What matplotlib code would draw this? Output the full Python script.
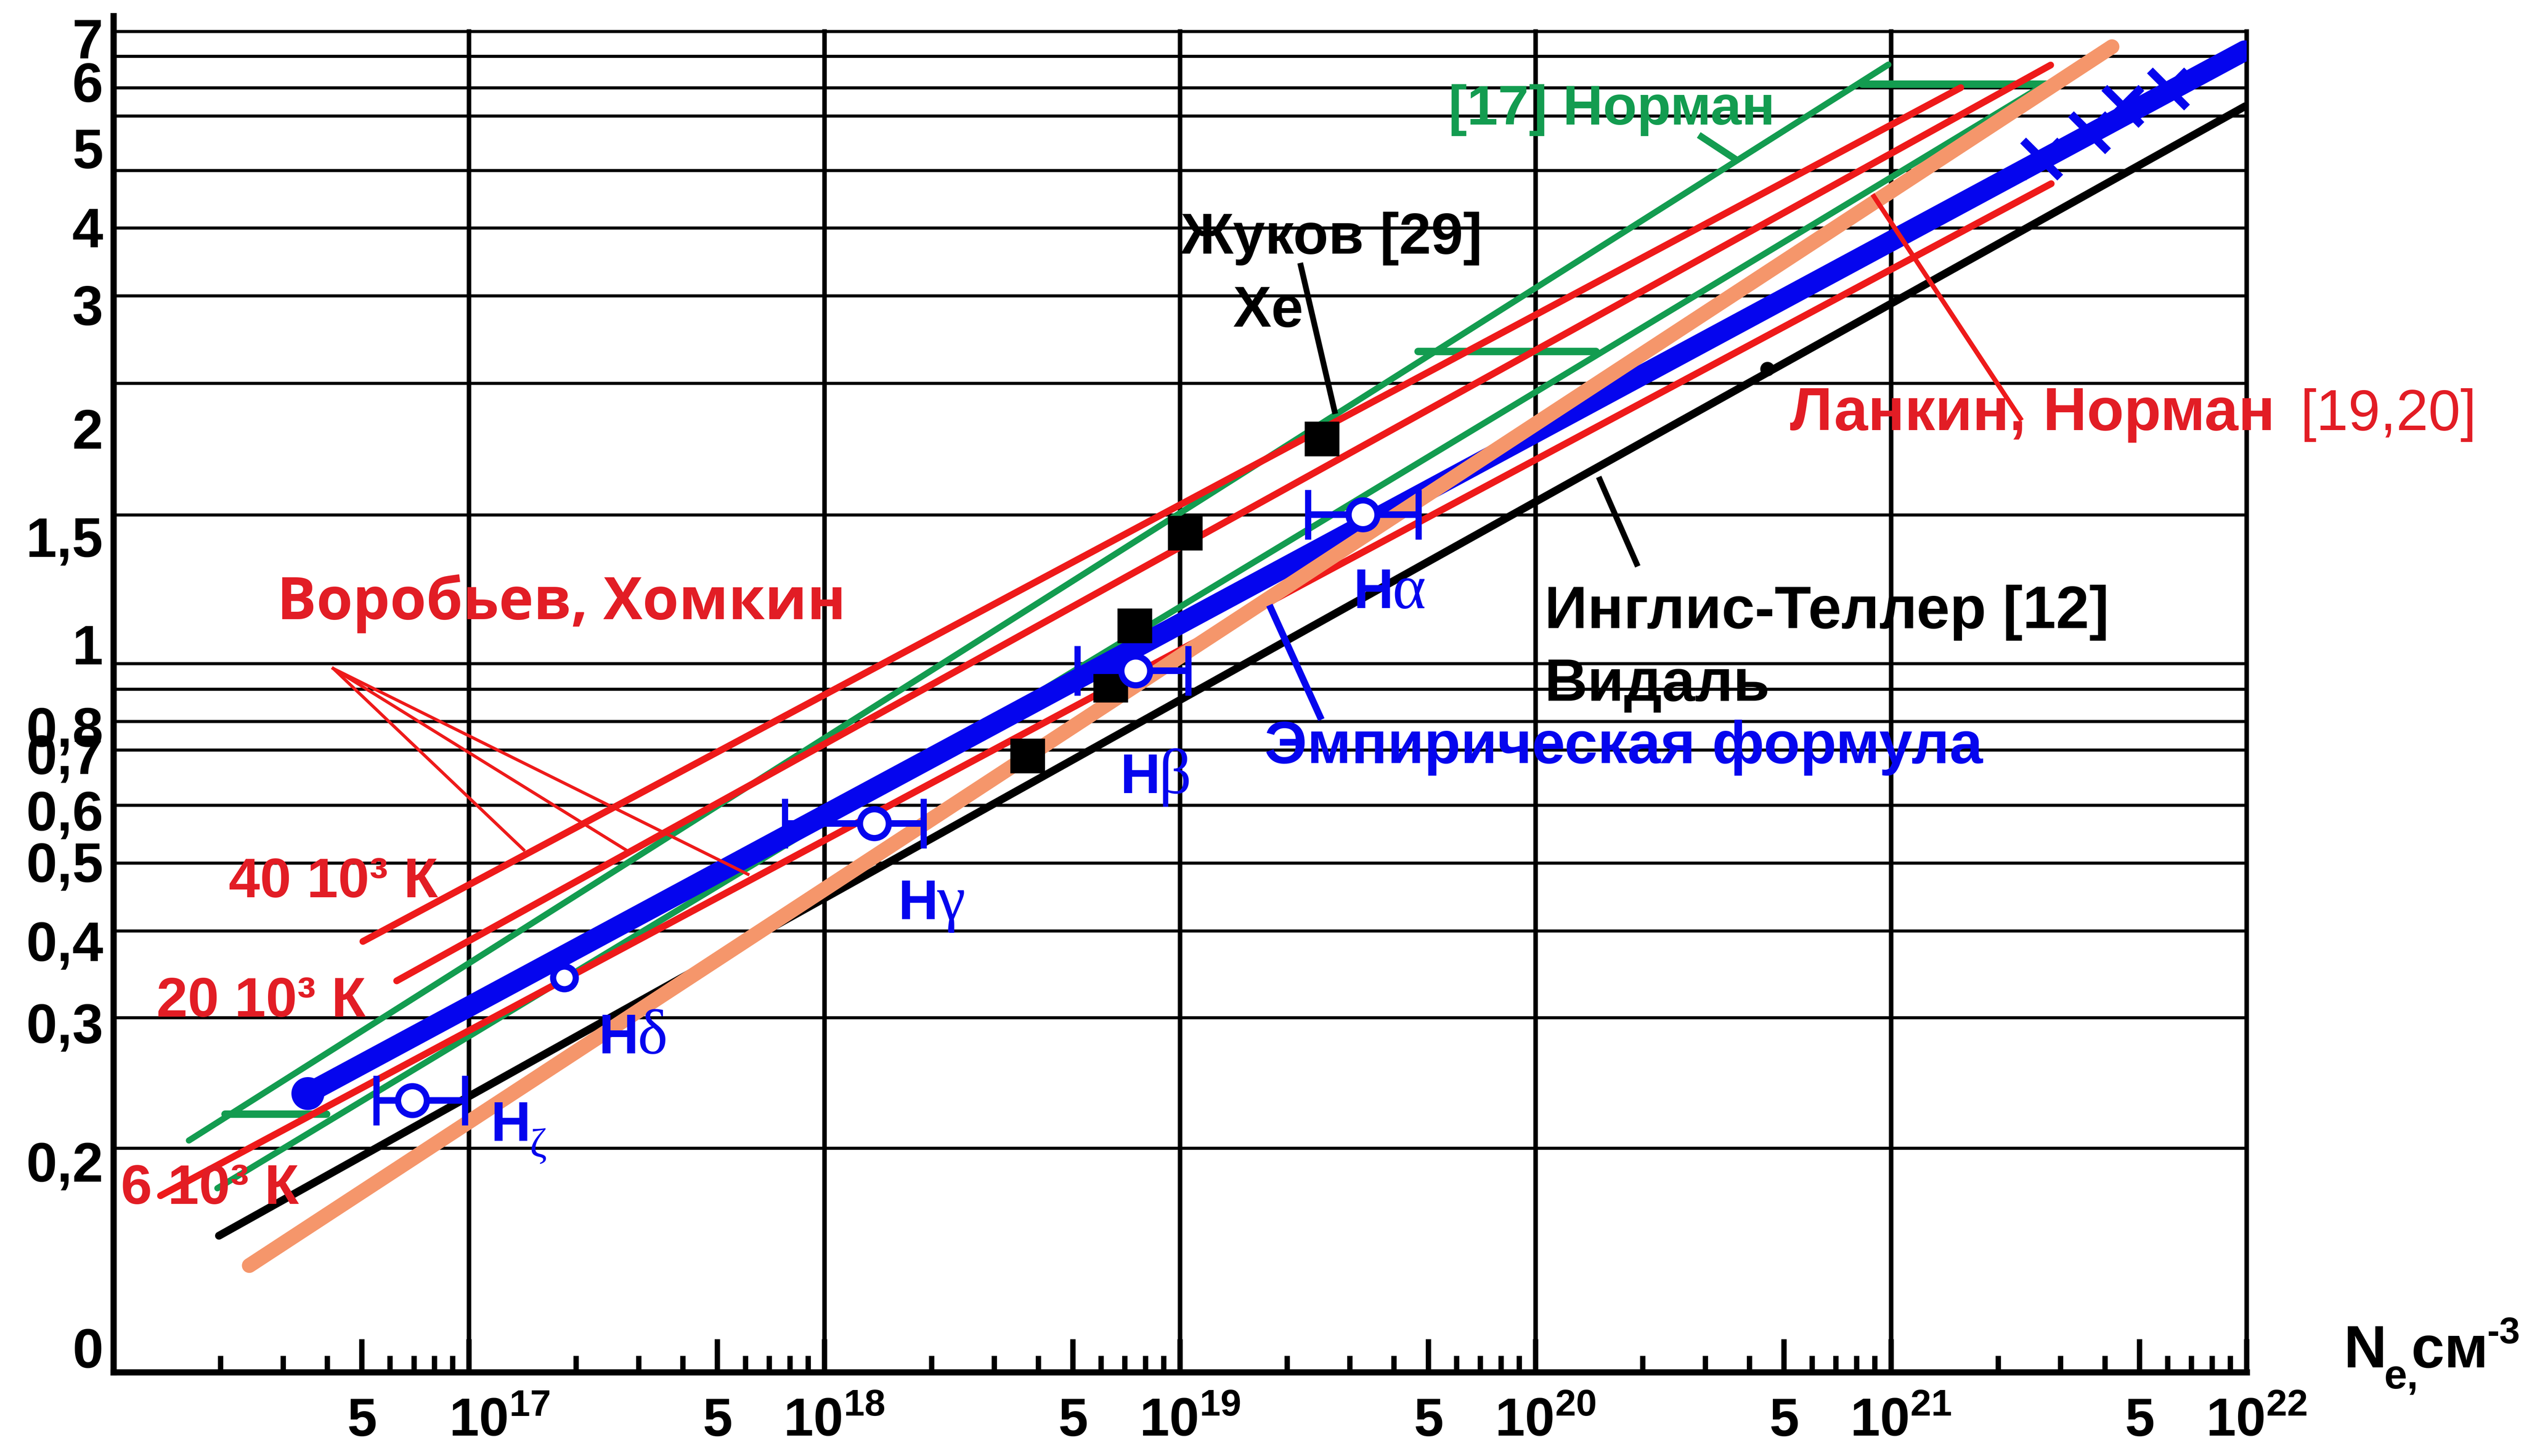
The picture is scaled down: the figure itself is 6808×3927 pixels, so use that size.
import numpy as np
from matplotlib import pyplot as plt
from matplotlib import font_manager
from matplotlib import transforms
from matplotlib.ticker import NullFormatter, NullLocator


# Values (x: N_e, cm^-3; y: as labelled on the axis)
Y_TICKS = [0, 0.2, 0.3, 0.4, 0.5, 0.6, 0.7, 0.8, 1, 1.5, 2, 3, 4, 5, 6, 7]
Y_TICK_LABELS = ['0', '0,2', '0,3', '0,4', '0,5', '0,6', '0,7', '0,8',
                 '1', '1,5', '2', '3', '4', '5', '6', '7']
Y_LIMITS = (-0.027, 7.5)
X_LIMITS = (1e16, 1e22)

# Инглис-Теллер / Видаль (black)
inglis_n = [1.98e16, 9.9e21]
inglis_w = [0.120, 5.63]
inglis_dot_n = [4.49e20]
inglis_dot_w = [2.48]

# orange line
orange_n = [2.41e16, 4.18e21]
orange_w = [0.088, 6.80]

# Эмпирическая формула (blue) and crosses on it
empir_n = [3.52e16, 9.88e21]
empir_w = [0.249, 6.71]
cross_n = [2.65e21, 3.61e21, 4.49e21, 6.02e21]
cross_w = [4.86, 5.23, 5.63, 5.89]

# [17] Норман (green band)
norman_hi_n = [1.63e16, 9.82e20]
norman_hi_w = [0.215, 6.39]
norman_lo_n = [1.96e16, 2.73e21]
norman_lo_w = [0.171, 5.97]
norman_bridge_n = [(2.06e16, 3.98e16), (4.67e19, 1.48e20), (8.30e20, 2.73e21)]
norman_bridge_w = [0.234, 2.62, 5.96]

# Воробьев, Хомкин: 40, 20, 6 10^3 K (red)
red_n = [[5.03e16, 1.57e21], [6.26e16, 2.81e21], [1.356e16, 2.82e21]]
red_w = [[0.399, 5.91], [0.351, 6.38], [0.163, 4.55]]

# Жуков [29], Xe (black squares)
xe_n = [3.73e18, 6.38e18, 7.46e18, 1.034e19, 2.51e19]
xe_w = [0.696, 0.90, 1.086, 1.515, 1.951]

# hydrogen lines with x error bars
h_names = ['α', 'β', 'γ', 'ζ']
h_n = [3.27e19, 7.50e18, 1.378e18, 6.92e16]
h_lo = [2.29e19, 5.14e18, 7.74e17, 5.48e16]
h_hi = [4.68e19, 1.053e19, 1.897e18, 9.74e16]
h_w = [1.60, 0.936, 0.574, 0.244]
hd_n = [1.853e17]
hd_w = [0.355]

# leader lines of the annotations
vorob_from = (4.15e16, 0.941)
vorob_to_n = [1.425e17, 2.805e17, 6.09e17]
vorob_to_w = [0.523, 0.520, 0.484]
xe_lead_n = [2.186e19, 2.72e19]
xe_lead_w = [3.50, 2.14]
inglis_lead_n = [1.516e20, 1.924e20]
inglis_lead_w = [1.763, 1.373]
empir_lead_n = [1.80e19, 2.475e19]
empir_lead_w = [1.167, 0.824]
lankin_lead_n = [8.94e20, 2.31e21]
lankin_lead_w = [4.39, 2.08]
norman_lead_n = [2.93e20, 3.65e20]
norman_lead_w = [5.17, 4.86]


# layout frame of the reference (px of a 1568 x 904 view)
W, H = 1568.0, 904.0
AX_LEFT, AX_RIGHT, AX_TOP, AX_BOTTOM = 70.5, 1395.7, 10.0, 852.0
# screen rows of the hand-drawn y labels (calibrates the axis)
Y_SCREEN = [852, 836.6, 721, 635, 584, 535, 503, 468, 451, 400, 333, 266,
            189, 141, 92, 50.7, 23.6, 10]
GRID_ROWS = [19.6, 35, 54.6, 72, 106, 141.6, 183.8, 238, 319.7, 412, 428,
             448, 465.7, 500, 536, 578, 632, 713]

RED = '#ee1a1a'
RED_TXT = '#e21d25'
GREEN = '#139c50'
BLUE = '#0505ee'
ORANGE = '#f5966b'

_names = {f.name for f in font_manager.fontManager.ttflist}
NARROW = 'Liberation Sans Narrow' if 'Liberation Sans Narrow' in _names else 'Liberation Sans'
NS = 1.0 if NARROW == 'Liberation Sans Narrow' else 0.88


def put(fig, x, y, s, color='black', size=28, weight='bold', family='Liberation Sans', **kw):
    fig.text(x / W, 1 - y / H, s, color=color, fontsize=size, fontweight=weight,
             family=family, ha='left', va='baseline', **kw)


def main():
    plt.rcParams['font.family'] = ['Liberation Sans', 'DejaVu Sans']
    plt.rcParams['mathtext.fontset'] = 'custom'
    plt.rcParams['mathtext.rm'] = 'Liberation Sans'
    plt.rcParams['mathtext.bf'] = 'Liberation Sans:bold'
    plt.rcParams['mathtext.it'] = 'Liberation Sans:italic'

    fig = plt.figure(figsize=(6808 / 400, 3927 / 400), dpi=400)
    ax = fig.add_axes([AX_LEFT / W, 1 - AX_BOTTOM / H,
                       (AX_RIGHT - AX_LEFT) / W, (AX_BOTTOM - AX_TOP) / H])

    # hand-drawn y axis: piecewise scale through the labelled rows
    vals = [Y_LIMITS[0]] + Y_TICKS + [Y_LIMITS[1]]
    heights = AX_BOTTOM - np.array(Y_SCREEN)

    def fwd(v):
        return np.interp(v, vals, heights)

    def inv(h):
        return np.interp(h, heights, vals)

    ax.set_xscale('log')
    ax.set_yscale('function', functions=(fwd, inv))
    ax.set_xlim(*X_LIMITS)
    ax.set_ylim(*Y_LIMITS)

    # grid
    span = AX_BOTTOM - AX_TOP
    for row in GRID_ROWS:
        f = (AX_BOTTOM - row) / span
        ax.plot([0, 1], [f, f], transform=ax.transAxes, color='black', lw=1.5,
                zorder=1, clip_on=False)
    for e in range(17, 23):
        ax.axvline(10.0 ** e, ymin=0, ymax=(AX_BOTTOM - GRID_ROWS[0]) / span,
                   color='black', lw=2.2, zorder=1, clip_on=False)

    # Норман band
    ax.plot(norman_hi_n, norman_hi_w, color=GREEN, lw=3.0, solid_capstyle='round', zorder=3)
    ax.plot(norman_lo_n, norman_lo_w, color=GREEN, lw=3.0, solid_capstyle='round', zorder=3)
    for (n0, n1), w in zip(norman_bridge_n, norman_bridge_w):
        ax.plot([n0, n1], [w, w], color=GREEN, lw=3.6, solid_capstyle='round', zorder=3)

    # Воробьев, Хомкин
    for n, w in zip(red_n, red_w):
        ax.plot(n, w, color=RED, lw=3.3, solid_capstyle='round', zorder=3)

    # Инглис-Теллер
    ax.plot(inglis_n, inglis_w, color='black', lw=3.8, solid_capstyle='round', zorder=4)
    ax.plot(inglis_dot_n, inglis_dot_w, 'o', color='black', ms=6, zorder=4)

    # empirical formula
    ax.plot(empir_n, empir_w, color=BLUE, lw=10, solid_capstyle='round', zorder=5)
    ax.plot(empir_n[:1], empir_w[:1], 'o', color=BLUE, ms=15, zorder=5)
    ax.plot(cross_n, cross_w, 'x', color=BLUE, ms=18, mew=4, zorder=7)

    ax.plot(orange_n, orange_w, color=ORANGE, lw=7.2, solid_capstyle='round', zorder=6)

    # Xe points
    ax.plot(xe_n, xe_w, 's', color='black', ms=16, zorder=7)

    # hydrogen lines
    xerr = [np.subtract(h_n, h_lo), np.subtract(h_hi, h_n)]
    ax.errorbar(h_n, h_w, xerr=xerr, fmt='o', mfc='white', mec=BLUE, mew=3, ms=14,
                ecolor=BLUE, elinewidth=3.2, capsize=12, capthick=4, zorder=7)
    ax.plot(hd_n, hd_w, 'o', mfc='white', mec=BLUE, mew=3, ms=11, zorder=7)

    # leaders
    for n, w in zip(vorob_to_n, vorob_to_w):
        ax.plot([vorob_from[0], n], [vorob_from[1], w], color=RED, lw=1.5, zorder=8)
    ax.plot(xe_lead_n, xe_lead_w, color='black', lw=2.8, zorder=8)
    ax.plot(inglis_lead_n, inglis_lead_w, color='black', lw=2.8, zorder=8)
    ax.plot(empir_lead_n, empir_lead_w, color=BLUE, lw=3.3, zorder=8)
    ax.plot(lankin_lead_n, lankin_lead_w, color=RED, lw=2.3, zorder=8)
    ax.plot(norman_lead_n, norman_lead_w, color=GREEN, lw=3.3, zorder=8)

    # axes look
    for side in ('top', 'right'):
        ax.spines[side].set_visible(False)
    ax.spines['left'].set_linewidth(3.0)
    ax.spines['bottom'].set_linewidth(3.0)

    major, labels = [], []
    for e in range(16, 22):
        major += [5 * 10.0 ** e, 10.0 ** (e + 1)]
        labels += ['5', r'$\mathbf{10^{%d}}$' % (e + 1)]
    ax.set_xticks(major, labels)
    ax.set_xticks([m * 10.0 ** e for e in range(16, 22) for m in (2, 3, 4, 6, 7, 8, 9)],
                  minor=True)
    ax.xaxis.set_minor_formatter(NullFormatter())
    ax.tick_params(axis='x', which='major', direction='in', length=16, width=2.6,
                   pad=12, labelsize=26)
    ax.tick_params(axis='x', which='minor', direction='in', length=8, width=2.6)

    ax.set_yticks(Y_TICKS, Y_TICK_LABELS)
    ax.yaxis.set_minor_locator(NullLocator())
    ax.tick_params(axis='y', length=0, pad=5, labelsize=27)
    for lbl in ax.get_xticklabels() + ax.get_yticklabels():
        lbl.set_fontweight('bold')
    # the decade labels sit a little right of their ticks in the original
    for i, lbl in enumerate(ax.get_xticklabels()):
        if i % 2 == 1:
            dx = 19 if i == 1 else 6
            lbl.set_transform(lbl.get_transform() +
                              transforms.ScaledTranslation(dx * 0.78 / 72, 0, fig.dpi_scale_trans))

    # annotations
    put(fig, 172, 384.4, 'Воробьев, Хомкин', RED_TXT, 28.5, family='Open Sans')
    put(fig, 142, 557.2, '40 10³ К', RED_TXT, 31 * NS, family=NARROW)
    put(fig, 97.3, 631.2, '20 10³ К', RED_TXT, 31 * NS, family=NARROW)
    put(fig, 75, 747.5, '6 10³ К', RED_TXT, 31 * NS, family=NARROW)
    put(fig, 899.8, 77.3, '[17] Норман', GREEN, 27, family=NARROW)
    put(fig, 733.7, 157.5, 'Жуков [29]', 'black', 28, family=NARROW)
    put(fig, 766, 202.7, 'Хе', 'black', 28, family=NARROW)
    put(fig, 1112, 267, 'Ланкин, Норман', RED_TXT, 29.5)
    put(fig, 1429, 267, '[19,20]', RED_TXT, 28, weight='normal', family=NARROW)
    put(fig, 959.4, 390, 'Инглис-Теллер [12]', 'black', 29)
    put(fig, 959.4, 435, 'Видаль', 'black', 29)
    put(fig, 785.7, 473.8, 'Эмпирическая формула', BLUE, 29)

    h_text = [(841, 377.6), (696, 492.4), (558, 570.6), (305, 708.4)]
    for (x, y), g in zip(h_text, h_names):
        put(fig, x, y, 'H', BLUE, 27)
        if g == 'ζ':
            put(fig, x + 24, y + 10, g, BLUE, 20, weight='normal', family='Liberation Serif')
        else:
            put(fig, x + 24, y, g, BLUE, 31, weight='normal', family='Liberation Serif')
    put(fig, 372, 654, 'H', BLUE, 27)
    put(fig, 396, 654, 'δ', BLUE, 31, weight='normal', family='Liberation Serif')

    put(fig, 1456, 849, 'N', 'black', 29)
    put(fig, 1481, 862, 'e,', 'black', 20)
    put(fig, 1498, 849, 'см', 'black', 29)
    put(fig, 1545, 834, '-3', 'black', 18)

    fig.savefig('out.png', dpi=400, facecolor='white')
    plt.close(fig)


if __name__ == '__main__':
    main()
